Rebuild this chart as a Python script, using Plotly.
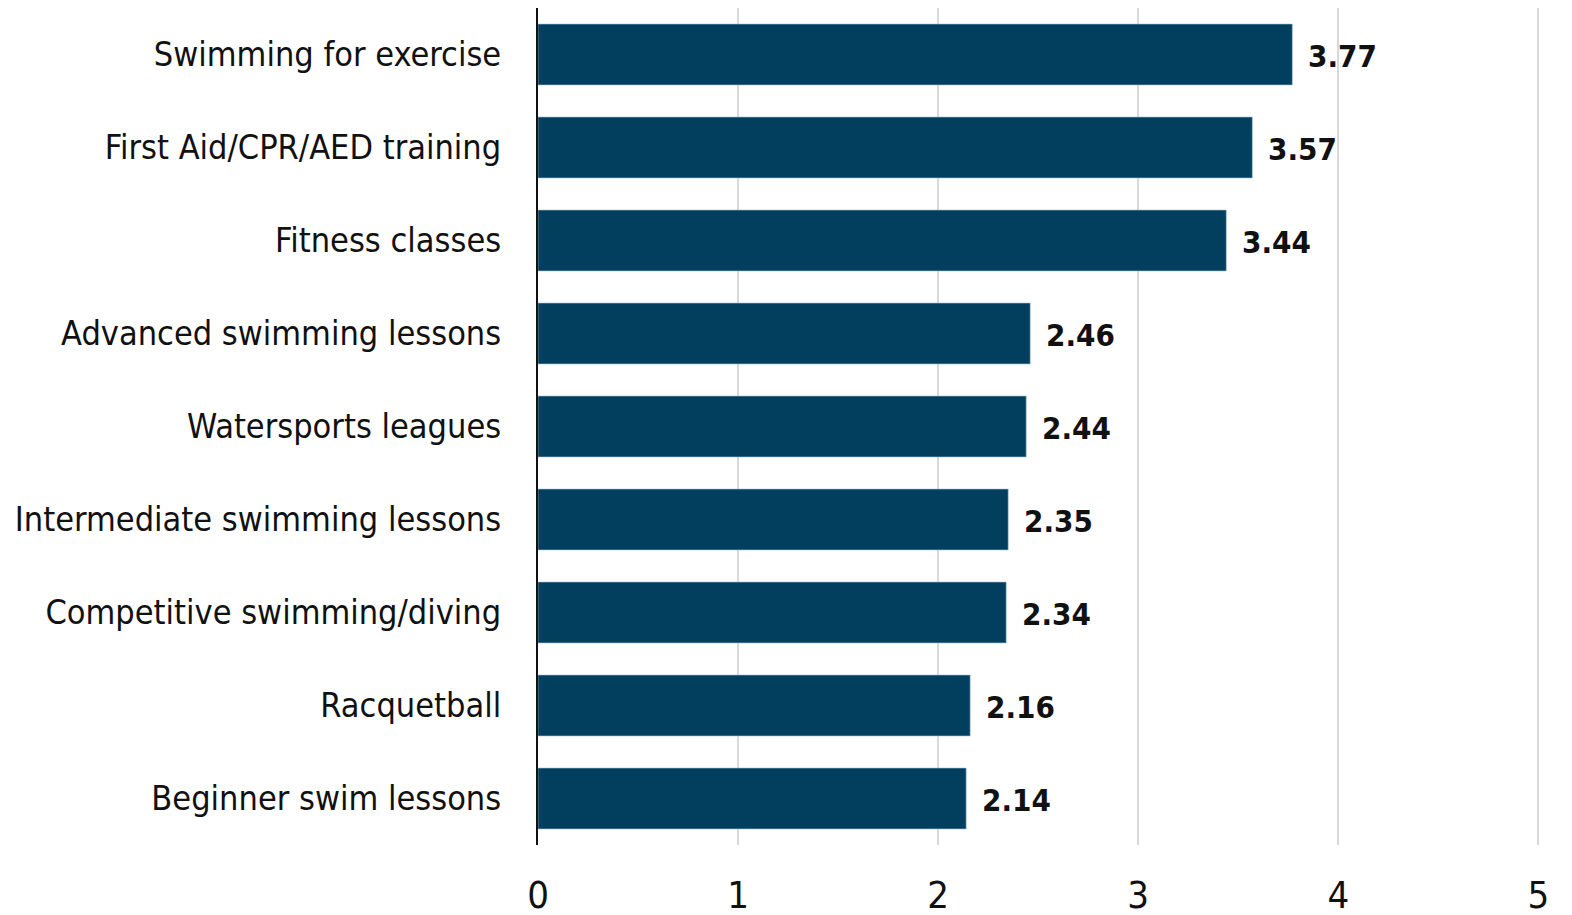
import plotly.graph_objects as go

# Average rating per programme (top to bottom as shown)
programs = [
    "Swimming for exercise",
    "First Aid/CPR/AED training",
    "Fitness classes",
    "Advanced swimming lessons",
    "Watersports leagues",
    "Intermediate swimming lessons",
    "Competitive swimming/diving",
    "Racquetball",
    "Beginner swim lessons",
]
scores = [3.77, 3.57, 3.44, 2.46, 2.44, 2.35, 2.34, 2.16, 2.14]
x_ticks = [0, 1, 2, 3, 4, 5]

BAR = "#023F5F"
FONT = "Liberation Sans Narrow, Arial Narrow, DejaVu Sans Condensed, sans-serif"

fig = go.Figure(go.Bar(
    x=scores,
    y=programs,
    orientation="h",
    marker=dict(color=BAR, line=dict(color="#9fbfd3", width=0.6)),
    hoverinfo="skip",
))

# value labels just past the bar ends
for p, s in zip(programs, scores):
    fig.add_annotation(
        x=s, y=p, text=f"{s:.2f}",
        xanchor="left", yanchor="middle", xshift=14, yshift=-1,
        showarrow=False,
        font=dict(family=FONT, size=31, color="#111111", weight="bold"),
    )

# page body adds 8px offset, margins account for it
fig.update_layout(
    width=1572, height=915,
    margin=dict(l=530, r=40, t=0, b=78),
    paper_bgcolor="white", plot_bgcolor="white",
    bargap=0.345,
    showlegend=False,
    font=dict(family=FONT, color="#111111"),
)
# range nudged past 5 so the last gridline is drawn
fig.update_xaxes(
    range=[0, 5.008], tickvals=x_ticks,
    showgrid=True, gridcolor="#d9d9d9", gridwidth=2,
    zeroline=False, showline=False,
    tickfont=dict(family=FONT, size=38, color="#111111"),
    ticklabelstandoff=24,
    automargin=False,
)
fig.update_yaxes(
    autorange="reversed",
    showline=True, linecolor="#111111", linewidth=2,
    tickfont=dict(family=FONT, size=34, color="#111111"),
    ticklabelstandoff=28,
    automargin=False,
)

fig.write_html("out.html")
